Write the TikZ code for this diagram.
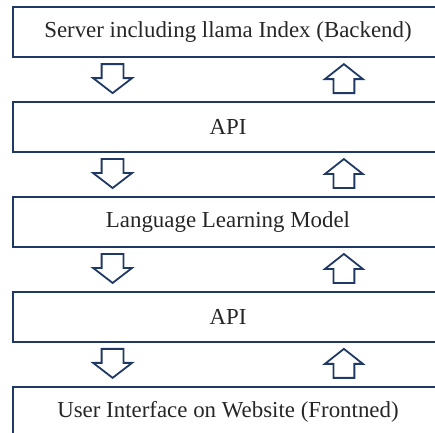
\documentclass[tikz,border=0pt]{standalone}
\usepackage{fontspec}
\setmainfont{Liberation Serif}
\definecolor{navy}{RGB}{31,56,100}
\tikzset{
  layer/.style={draw=navy, line width=2bp, minimum width=431bp, minimum height=50bp,
    inner sep=0pt, font=\fontsize{23}{27}\selectfont, text=black!85},
  arrowline/.style={draw=navy, line width=1.8bp, line join=miter}
}
\begin{document}
\begin{tikzpicture}[x=1bp,y=1bp]
\draw[white] (0,0) rectangle (435,432);
\useasboundingbox (0,0) rectangle (435,432);
\node[layer] (b1) at (228,400) {Server including llama Index (Backend)};
\node[layer] (b2) at (228,305) {API};
\node[layer] (b3) at (228,210) {Language Learning Model};
\node[layer] (b4) at (228,115) {API};
\node[layer] (b5) at (228,20) {User Interface on Website (Frontned)};
\foreach \yc in {353.5,258.5,163.5,68.5}{
  \coordinate (d) at (112.5,\yc);
  \coordinate (u) at (344,\yc);
  \draw[arrowline] (d) ++(-11,14.5) -- ++(22,0) -- ++(0,-14) -- ++(8.5,0) -- ++(-19.5,-15) -- ++(-19.5,15) -- ++(8.5,0) -- cycle;
  \draw[arrowline] (u) ++(-10.5,-14.5) -- ++(21,0) -- ++(0,14) -- ++(8.5,0) -- ++(-19,15) -- ++(-19,-15) -- ++(8.5,0) -- cycle;
}
\end{tikzpicture}
\end{document}
